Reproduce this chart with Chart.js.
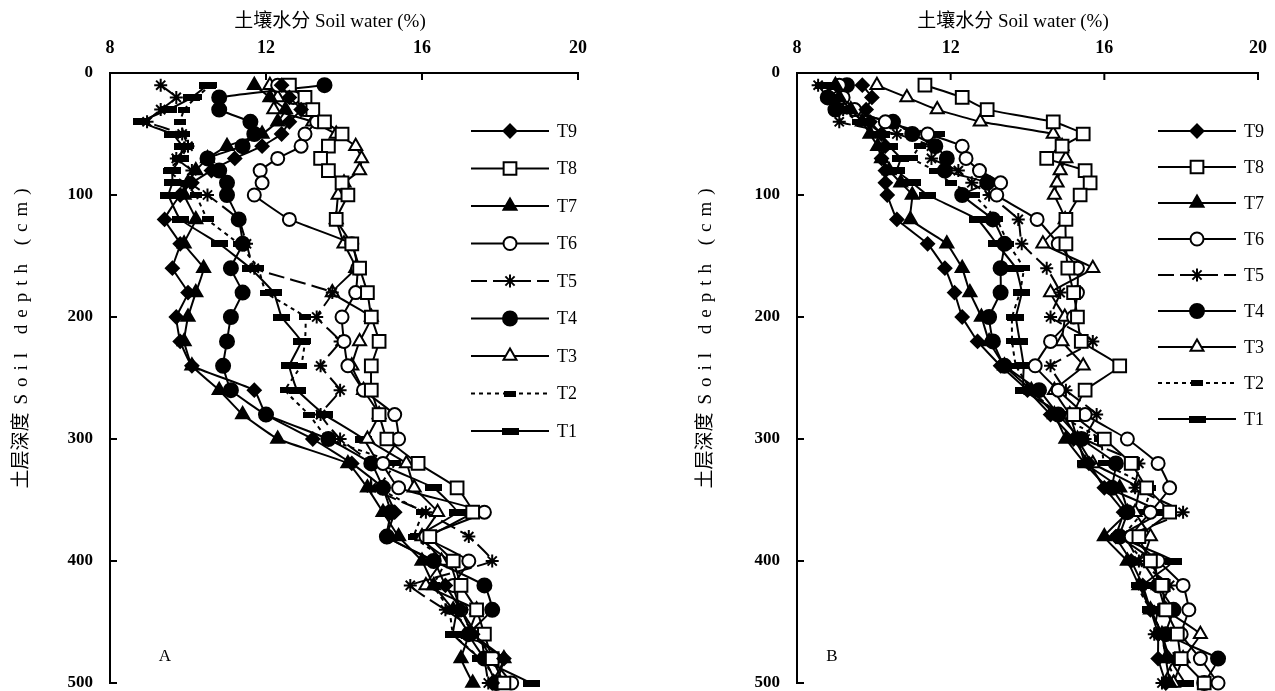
<!DOCTYPE html>
<html>
<head>
<meta charset="utf-8">
<script src="https://cdn.jsdelivr.net/npm/chart.js@4.4.1/dist/chart.umd.min.js"></script>
<style>
  body { margin: 0; background: #fff; }
  .panel { position: absolute; top: 0; height: 691px; }
  #wrapA { left: 0; width: 637px; }
  #wrapB { left: 637px; width: 638px; }
</style>
</head>
<body>
<div class="panel" id="wrapA"><canvas id="chartA" width="637" height="691"></canvas></div>
<div class="panel" id="wrapB"><canvas id="chartB" width="638" height="691"></canvas></div>
<script>
// depths (cm) of every sample, shared by all series
const depths = [10, 20, 30, 40, 50, 60, 70, 80, 90, 100,
  120, 140, 160, 180, 200, 220, 240, 260, 280, 300,
  320, 340, 360, 380, 400, 420, 440, 460, 480, 500];

const seriesNames = ['T9', 'T8', 'T7', 'T6', 'T5', 'T4', 'T3', 'T2', 'T1'];
const xTicks = [8, 12, 16, 20];
const yTicks = [0, 100, 200, 300, 400, 500];
const xTitle = '土壤水分 Soil water (%)';
const yTitleCn = '土层深度';
const yTitleEn = 'Soil depth (cm)';

// Panel A soil water (%)
const aT9 = [12.4, 12.6, 12.9, 12.6, 12.4, 11.9, 11.2, 10.6, 10.1, 9.8, 9.4, 9.8, 9.6, 10.0, 9.7, 9.8, 10.1, 11.7, 12.0, 13.2, 14.2, 15.0, 15.3, 15.1, 16.3, 16.6, 17.0, 17.3, 18.1, 17.8];
const aT8 = [12.6, 13.0, 13.2, 13.5, 13.95, 13.6, 13.4, 13.6, 13.95, 14.1, 13.8, 14.2, 14.4, 14.6, 14.7, 14.9, 14.7, 14.7, 14.9, 15.1, 15.9, 16.9, 17.3, 16.2, 16.8, 17.0, 17.4, 17.6, 17.8, 18.1];
const aT7 = [11.7, 12.1, 12.5, 12.3, 11.9, 11.0, 10.5, 10.2, 10.0, 9.9, 10.2, 9.9, 10.4, 10.2, 10.0, 9.9, 10.1, 10.8, 11.4, 12.3, 14.1, 14.6, 15.0, 15.4, 16.0, 16.3, 16.8, 17.2, 17.0, 17.3];
const aT6 = [12.3, 12.7, 13.0, 13.3, 13.0, 12.9, 12.3, 11.85, 11.9, 11.7, 12.6, 14.2, 14.35, 14.3, 13.95, 14.0, 14.1, 14.5, 15.3, 15.4, 15.0, 15.4, 17.6, 16.1, 17.2, 16.8, 17.0, 17.4, 17.8, 18.3];
const aT5 = [9.3, 9.7, 9.3, 8.95, 9.85, 10.0, 9.7, 10.1, 10.05, 10.5, 11.3, 11.5, 11.7, 13.7, 13.3, 13.9, 13.4, 13.9, 13.4, 13.9, 14.7, 14.7, 16.1, 17.2, 17.8, 15.7, 16.6, 17.5, 17.6, 17.7];
const aT4 = [13.5, 10.8, 10.8, 11.6, 11.7, 11.4, 10.5, 10.8, 11.0, 11.0, 11.3, 11.4, 11.1, 11.4, 11.1, 11.0, 10.9, 11.1, 12.0, 13.6, 14.7, 15.0, 15.2, 15.1, 16.3, 17.6, 17.8, 17.2, 17.6, 17.9];
const aT3 = [12.1, 12.3, 12.2, 13.2, 13.8, 14.3, 14.45, 14.4, 14.0, 13.85, 13.8, 14.0, 14.3, 13.7, 14.7, 14.4, 14.2, 14.5, 14.9, 14.6, 15.6, 15.8, 16.4, 16.0, 16.5, 16.1, 17.4, 17.2, 18.1, 17.9];
const aT2 = [10.6, 10.2, 9.9, 9.8, 9.9, 10.0, 9.8, 9.5, 9.9, 10.2, 10.5, 11.3, 11.8, 12.0, 13.0, 13.0, 12.9, 12.5, 13.1, 13.6, 15.3, 14.9, 16.0, 15.8, 16.6, 16.3, 16.7, 16.8, 17.5, 18.0];
const aT1 = [10.5, 10.1, 9.5, 8.8, 9.6, 9.85, 9.8, 9.6, 9.6, 9.5, 9.8, 10.8, 11.6, 12.2, 12.4, 12.9, 12.6, 12.8, 13.5, 14.5, 14.9, 16.3, 16.9, 15.9, 16.7, 16.9, 16.9, 16.8, 17.5, 18.8];

// Panel B soil water (%)
const bT9 = [9.7, 9.95, 9.8, 9.9, 10.2, 10.3, 10.2, 10.3, 10.3, 10.35, 10.6, 11.4, 11.85, 12.1, 12.3, 12.7, 13.3, 14.0, 14.6, 15.2, 15.6, 16.0, 16.5, 16.3, 16.7, 17.0, 17.2, 17.4, 17.4, 17.6];
const bT8 = [11.33, 12.3, 12.95, 14.67, 15.45, 14.9, 14.5, 15.5, 15.63, 15.37, 15.0, 15.0, 15.05, 15.2, 15.3, 15.4, 16.4, 15.5, 15.2, 16.0, 16.7, 17.1, 17.7, 16.9, 17.2, 17.5, 17.6, 17.9, 18.0, 18.6];
const bT7 = [9.0, 9.1, 9.4, 9.7, 9.9, 10.1, 10.2, 10.4, 10.7, 11.0, 10.95, 11.9, 12.3, 12.5, 12.8, 13.0, 13.4, 14.1, 14.7, 15.0, 15.5, 16.4, 16.6, 16.0, 16.6, 16.9, 17.2, 17.5, 17.6, 17.7];
const bT6 = [9.1, 9.2, 9.5, 10.3, 11.4, 12.3, 12.4, 12.75, 13.3, 13.2, 14.25, 14.8, 15.3, 15.3, 15.2, 14.6, 14.2, 14.8, 15.5, 16.6, 17.4, 17.7, 17.2, 16.7, 17.4, 18.05, 18.2, 18.0, 18.5, 18.96];
const bT5 = [8.55, 8.8, 9.2, 9.1, 10.6, 11.5, 11.5, 12.2, 12.55, 13.0, 13.76, 13.85, 14.5, 14.85, 14.6, 15.7, 14.6, 15.0, 15.8, 15.5, 16.9, 16.8, 18.05, 16.6, 16.9, 17.7, 17.4, 17.3, 17.8, 17.5];
const bT4 = [9.3, 8.8, 9.0, 10.5, 11.0, 11.6, 11.9, 11.85, 12.95, 12.3, 13.1, 13.4, 13.3, 13.3, 13.0, 13.1, 13.4, 14.3, 14.8, 15.4, 16.3, 16.2, 16.6, 16.4, 17.3, 17.4, 17.8, 17.6, 18.96, 18.6];
const bT3 = [10.08, 10.86, 11.65, 12.77, 14.67, 14.9, 15.0, 14.85, 14.77, 14.7, 14.98, 14.4, 15.7, 14.6, 14.97, 14.9, 15.45, 14.7, 15.1, 15.3, 15.7, 16.9, 16.8, 17.2, 17.0, 17.4, 17.6, 18.5, 18.05, 17.8];
const bT2 = [8.7, 8.9, 9.2, 9.6, 11.7, 11.2, 11.0, 11.6, 12.0, 12.6, 13.2, 13.5, 13.9, 13.8, 13.6, 13.6, 13.7, 14.1, 14.8, 15.9, 16.0, 17.2, 17.0, 16.5, 17.0, 16.85, 17.2, 17.5, 17.6, 17.9];
const bT1 = [8.7, 9.0, 9.3, 9.8, 10.2, 10.4, 10.7, 10.6, 11.0, 11.4, 12.7, 13.2, 13.7, 13.85, 13.7, 13.8, 13.9, 13.9, 14.9, 15.3, 15.5, 16.1, 17.45, 16.4, 17.8, 17.0, 17.2, 17.5, 17.7, 18.1];

const serif = '"Liberation Serif", "Times New Roman", "Noto Sans CJK SC", serif';

// small filled bars used as T1 / T2 markers
function barMarker(w, h) {
  const c = document.createElement('canvas');
  c.width = w;
  c.height = h;
  const g = c.getContext('2d');
  g.fillStyle = '#000';
  g.fillRect(0, 0, w, h);
  return c;
}

const styles = {
  T9: { point: 'rectRot', radius: 6.5, fill: '#000', dash: [] },
  T8: { point: 'rect', radius: 9, fill: '#fff', dash: [] },
  T7: { point: 'triangle', radius: 7.5, fill: '#000', dash: [] },
  T6: { point: 'circle', radius: 6.5, fill: '#fff', dash: [] },
  T5: { point: 'star', radius: 6.5, fill: '#000', dash: [16, 6] },
  T4: { point: 'circle', radius: 7, fill: '#000', dash: [] },
  T3: { point: 'triangle', radius: 7.5, fill: '#fff', dash: [] },
  T2: { point: barMarker(12, 6), radius: 6, fill: '#000', dash: [4, 4] },
  T1: { point: barMarker(17, 7), radius: 7, fill: '#000', dash: [] }
};

const decorPlugin = {
  id: 'decor',
  afterDraw(chart, args, opts) {
    const { ctx, chartArea, scales } = chart;
    const left = chartArea.left, top = chartArea.top;
    ctx.save();
    ctx.strokeStyle = '#000';
    ctx.lineWidth = 2;
    ctx.setLineDash([]);

    // inward tick marks
    xTicks.forEach(v => {
      const px = scales.x.getPixelForValue(v);
      ctx.beginPath();
      ctx.moveTo(px, top);
      ctx.lineTo(px, top + 7);
      ctx.stroke();
    });
    yTicks.forEach(v => {
      const py = scales.y.getPixelForValue(v);
      ctx.beginPath();
      ctx.moveTo(left, py);
      ctx.lineTo(left + 7, py);
      ctx.stroke();
    });

    // axis titles
    ctx.fillStyle = '#000';
    ctx.font = '19px ' + serif;
    ctx.textAlign = 'center';
    ctx.textBaseline = 'middle';
    ctx.fillText(xTitle, left + opts.xTitleDx, 22);

    // y title: chinese part plain, latin part spaced out as in the print
    ctx.save();
    ctx.translate(left + opts.yTitleDx, 335);
    ctx.rotate(-Math.PI / 2);
    ctx.textAlign = 'left';
    ctx.letterSpacing = '0px';
    const wCn = ctx.measureText(yTitleCn).width;
    ctx.letterSpacing = '7px';
    const wEn = ctx.measureText(yTitleEn).width;
    const start = -(wCn + 8 + wEn) / 2;
    ctx.letterSpacing = '0px';
    ctx.fillText(yTitleCn, start, 0);
    ctx.letterSpacing = '7px';
    ctx.fillText(yTitleEn, start + wCn + 8, 0);
    ctx.letterSpacing = '0px';
    ctx.restore();

    // panel letter
    ctx.font = '17px ' + serif;
    ctx.textAlign = 'center';
    ctx.fillText(opts.letter, left + opts.letterDx, chartArea.bottom - 26);

    // legend
    const lx = left + 361;
    ctx.font = '18px ' + serif;
    ctx.textAlign = 'left';
    chart.data.datasets.forEach((ds, i) => {
      const y = top + 58 + i * opts.legendStep;
      ctx.lineWidth = 2;
      ctx.setLineDash(ds.borderDash || []);
      ctx.beginPath();
      ctx.moveTo(lx, y);
      ctx.lineTo(lx + 78, y);
      ctx.stroke();
      ctx.setLineDash([]);
      ctx.fillStyle = ds.pointBackgroundColor;
      ctx.strokeStyle = '#000';
      Chart.helpers.drawPoint(ctx, {
        pointStyle: ds.pointStyle,
        radius: ds.pointRadius,
        borderWidth: 2,
        rotation: 0
      }, lx + 39, y);
      ctx.fillStyle = '#000';
      ctx.fillText(ds.label, lx + 86, y + 1);
    });
    ctx.restore();
  }
};

function makeChart(canvasId, values, cfg) {
  const datasets = seriesNames.map((name, i) => ({
    label: name,
    data: depths.map((d, j) => ({ x: values[i][j], y: d })),
    showLine: true,
    clip: false,
    borderColor: '#000',
    borderWidth: 2,
    borderDash: styles[name].dash,
    pointStyle: styles[name].point,
    pointRadius: styles[name].radius,
    pointBackgroundColor: styles[name].fill,
    pointBorderColor: '#000',
    pointBorderWidth: 2,
    tension: 0.1,
    fill: false
  }));

  return new Chart(document.getElementById(canvasId), {
    type: 'scatter',
    data: { datasets },
    options: {
      responsive: false,
      animation: false,
      devicePixelRatio: 1,
      layout: {
        autoPadding: false,
        padding: { left: cfg.padLeft, right: cfg.padRight, top: 0, bottom: 8 }
      },
      plugins: {
        legend: { display: false },
        tooltip: { enabled: false },
        decor: cfg
      },
      scales: {
        x: {
          type: 'linear',
          position: 'top',
          min: 8,
          max: 20,
          afterBuildTicks: s => { s.ticks = xTicks.map(v => ({ value: v })); },
          afterFit: s => {
            s.height = 73;
            s.paddingLeft = 0;
            s.paddingRight = 0;
          },
          grid: { display: false, drawTicks: false },
          border: { display: true, color: '#000', width: 2 },
          ticks: { padding: 14, color: '#000', font: { family: serif, size: 18, weight: 'bold' } }
        },
        y: {
          type: 'linear',
          reverse: true,
          min: 0,
          max: 500,
          afterBuildTicks: s => { s.ticks = yTicks.map(v => ({ value: v })); },
          afterFit: s => {
            s.width = cfg.yWidth;
            s.paddingTop = 0;
            s.paddingBottom = 0;
          },
          grid: { display: false, drawTicks: false },
          border: { display: true, color: '#000', width: 2 },
          ticks: { padding: 17, color: '#000', font: { family: serif, size: 17, weight: 'bold' } }
        }
      }
    },
    plugins: [decorPlugin]
  });
}

makeChart('chartA', [aT9, aT8, aT7, aT6, aT5, aT4, aT3, aT2, aT1], {
  padLeft: 0, padRight: 59, yWidth: 110,
  xTitleDx: 220, yTitleDx: -88, letter: 'A', letterDx: 55, legendStep: 37.5
});
makeChart('chartB', [bT9, bT8, bT7, bT6, bT5, bT4, bT3, bT2, bT1], {
  padLeft: 50, padRight: 17, yWidth: 110,
  xTitleDx: 216, yTitleDx: -91, letter: 'B', letterDx: 35, legendStep: 36
});
</script>
</body>
</html>
